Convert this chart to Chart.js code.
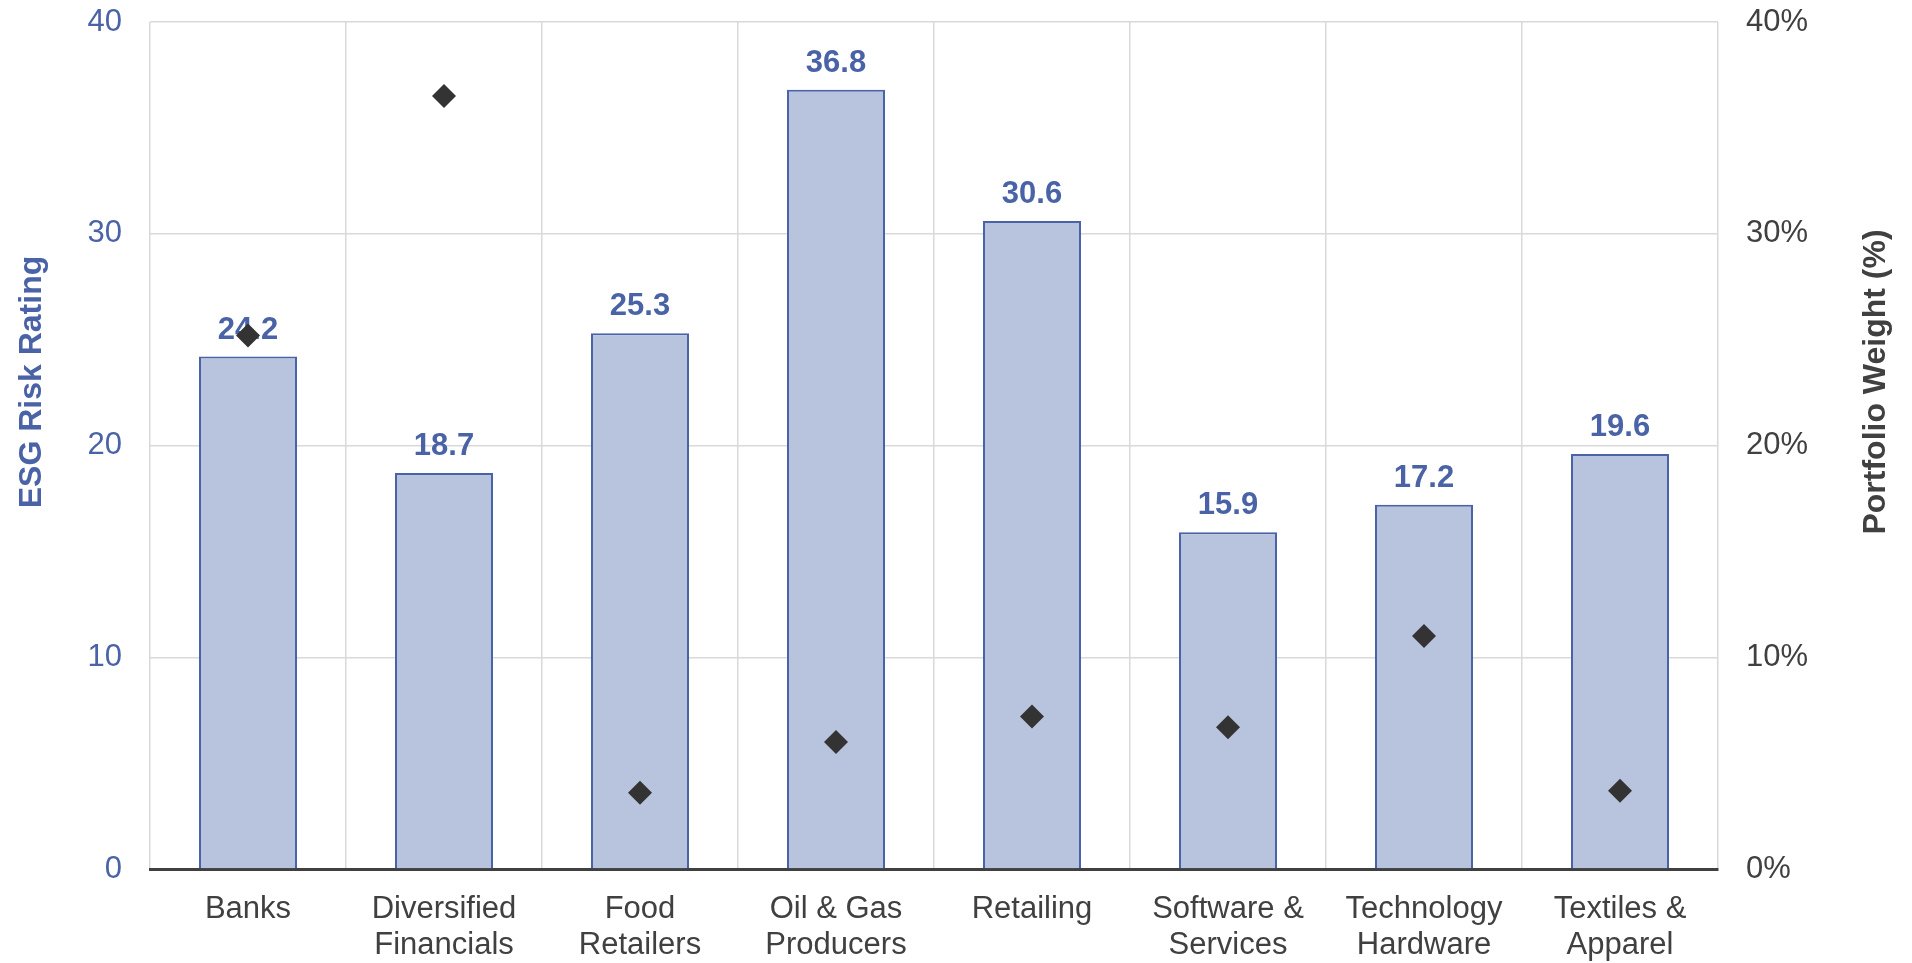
<!DOCTYPE html>
<html><head><meta charset="utf-8">
<script src="https://cdn.jsdelivr.net/npm/chart.js@4"></script>
<style>html,body{margin:0;padding:0;background:#fff;overflow:hidden}</style>
</head><body>
<canvas id="c" width="1912" height="963" style="display:block;width:1912px;height:963px"></canvas>
<script>
const categories = [["Banks"],["Diversified","Financials"],["Food","Retailers"],["Oil & Gas","Producers"],["Retailing"],["Software &","Services"],["Technology","Hardware"],["Textiles &","Apparel"]];
const esgRiskRating = [24.2, 18.7, 25.3, 36.8, 30.6, 15.9, 17.2, 19.6];
const portfolioWeight = [25.2, 36.5, 3.6, 6.0, 7.2, 6.7, 11.0, 3.7];
const leftTickValues = [0, 10, 20, 30, 40];
const rightTickLabels = ["0%", "10%", "20%", "30%", "40%"];
const leftTitle = "ESG Risk Rating";
const rightTitle = "Portfolio Weight (%)";

const FONT = "'Liberation Sans', Arial, sans-serif";
const BLUE = "#4a62a6";
const GREY = "#404040";

const barLabels = {
  id: 'barLabels',
  afterDatasetDraw(chart, args) {
    if (args.index !== 1) return;
    const ctx = chart.ctx;
    ctx.save();
    ctx.font = "bold 31px " + FONT;
    ctx.fillStyle = BLUE;
    ctx.textAlign = 'center';
    ctx.textBaseline = 'alphabetic';
    args.meta.data.forEach((el, i) => {
      ctx.fillText(esgRiskRating[i].toFixed(1), el.x, el.y - 18);
    });
    ctx.restore();
  }
};

const axisTitles = {
  id: 'axisTitles',
  afterDraw(chart) {
    const ctx = chart.ctx;
    ctx.save();
    ctx.font = "bold 32px " + FONT;
    ctx.textAlign = 'center';
    ctx.textBaseline = 'middle';
    ctx.translate(32, 382);
    ctx.rotate(-Math.PI / 2);
    ctx.fillStyle = BLUE;
    ctx.fillText(leftTitle, 0, 0);
    ctx.restore();
    ctx.save();
    ctx.font = "bold 32px " + FONT;
    ctx.textAlign = 'center';
    ctx.textBaseline = 'middle';
    ctx.translate(1876, 382);
    ctx.rotate(-Math.PI / 2);
    ctx.fillStyle = GREY;
    ctx.fillText(rightTitle, 0, 0);
    ctx.restore();
  }
};

new Chart(document.getElementById('c'), {
  data: {
    labels: categories,
    datasets: [
      {
        type: 'line',
        label: 'Portfolio Weight',
        data: portfolioWeight,
        yAxisID: 'y1',
        showLine: false,
        pointStyle: 'rectRot',
        pointRadius: 12,
        pointHoverRadius: 12,
        pointBackgroundColor: '#333333',
        pointBorderColor: '#333333',
        pointBorderWidth: 0,
        order: 0
      },
      {
        type: 'bar',
        label: 'ESG Risk Rating',
        data: esgRiskRating,
        yAxisID: 'y',
        backgroundColor: '#b8c4de',
        borderColor: '#4a62a8',
        borderWidth: 2,
        barPercentage: 0.5,
        categoryPercentage: 1.0,
        order: 1
      }
    ]
  },
  options: {
    responsive: false,
    animation: false,
    devicePixelRatio: 1,
    layout: { padding: { top: 22, left: 0, right: 0, bottom: 0 } },
    plugins: { legend: { display: false }, tooltip: { enabled: false } },
    scales: {
      x: {
        offset: true,
        grid: { color: '#d9d9d9', lineWidth: 1.5, drawTicks: false, offset: true },
        border: { color: '#404040', width: 3 },
        ticks: { color: GREY, font: { family: FONT, size: 31, lineHeight: 1.15 }, padding: 23, maxRotation: 0, autoSkip: false },
        afterFit(s) { s.height = 94; s.paddingLeft = 0; s.paddingRight = 0; }
      },
      y: {
        position: 'left',
        min: 0, max: 40,
        afterBuildTicks(s) { s.ticks = leftTickValues.map(v => ({ value: v })); },
        grid: { color: '#d9d9d9', lineWidth: 1.5, drawTicks: false },
        border: { display: false },
        ticks: { color: BLUE, font: { family: FONT, size: 31 }, padding: 28 },
        afterFit(s) { s.width = 150; s.paddingTop = 0; s.paddingBottom = 0; }
      },
      y1: {
        position: 'right',
        min: 0, max: 40,
        afterBuildTicks(s) { s.ticks = rightTickLabels.map((t, i) => ({ value: i * 10 })); },
        grid: { display: false, drawTicks: false },
        border: { display: false },
        ticks: { color: GREY, font: { family: FONT, size: 31 }, padding: 28, callback: (v, i) => rightTickLabels[i] },
        afterFit(s) { s.width = 194; s.paddingTop = 0; s.paddingBottom = 0; }
      }
    }
  },
  plugins: [barLabels, axisTitles]
});
</script>
</body></html>
